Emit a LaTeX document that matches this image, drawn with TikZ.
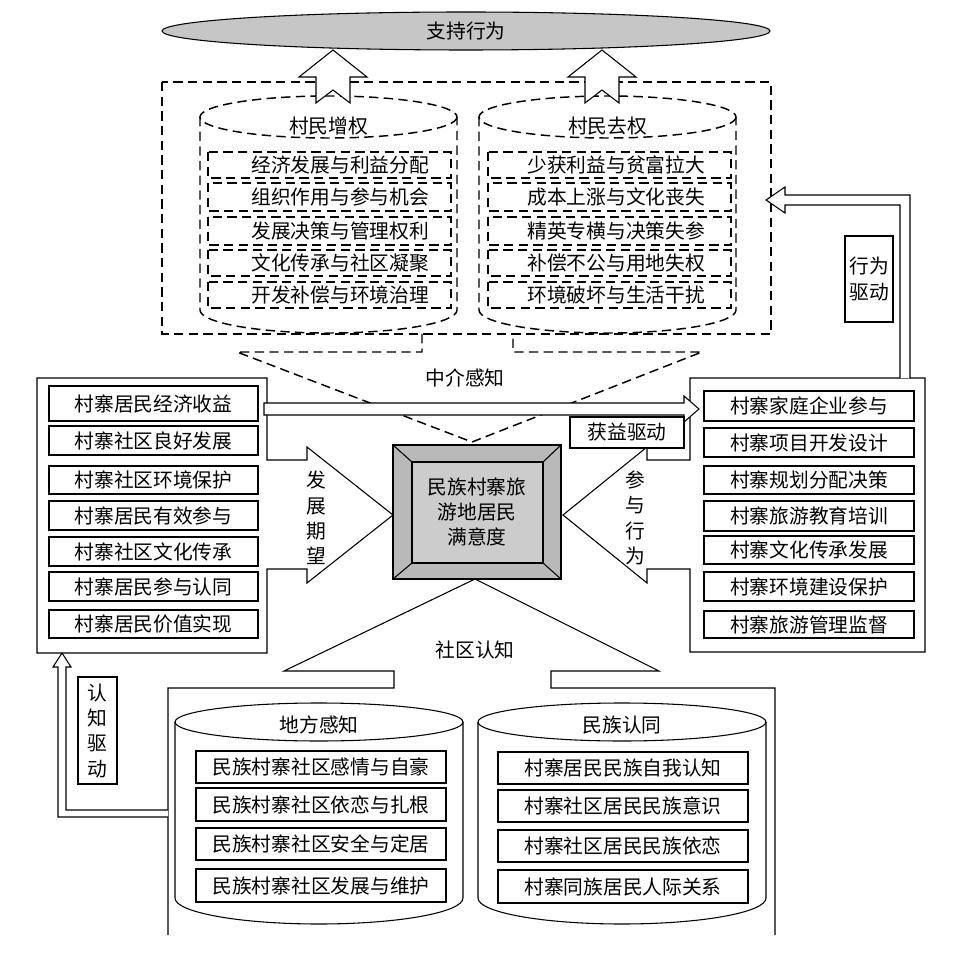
\documentclass[tikz,border=0pt]{standalone}
\usepackage{fontspec}
\setmainfont{Noto Sans CJK SC}
\begin{document}
\begin{tikzpicture}[x=0.75pt,y=-0.75pt,line join=miter,
  ln/.style={draw=black,line width=0.8pt},
  dsh/.style={draw=black,line width=1.1pt,dash pattern=on 7pt off 4pt},
  tx/.style={font=\fontsize{14.8}{17}\selectfont,inner sep=0pt},
  vt/.style={font=\fontsize{14.8}{19}\selectfont,inner sep=0pt,align=center}]
\useasboundingbox[fill=white] (0,0) rectangle (956,955);
% top ellipse
\draw[ln,fill=gray!45] (466,31) ellipse [x radius=304,y radius=19];
\node[tx] (support) at (466,31) {支持行为};
% dashed frame
\draw[dsh] (162,82) rectangle (771,334);
% top cylinders
\foreach \cx/\t/\n in {328.5/村民增权/cl,607.5/村民去权/cr}{
  \draw[dsh] (\cx-128.5,117) -- (\cx-128.5,310) arc[start angle=180,end angle=0,x radius=128.5,y radius=23] -- (\cx+128.5,117);
  \draw[dsh] (\cx,117) ellipse [x radius=128.5,y radius=21];
  \node[tx] (\n) at (\cx,126) {\t};
}
\foreach \a/\b/\t/\n in {152/178/经济发展与利益分配/l1,183/211/组织作用与参与机会/l2,217/245/发展决策与管理权利/l3,250/276/文化传承与社区凝聚/l4,282/308/开发补偿与环境治理/l5}{
  \path[dsh] (208,\a) rectangle (451,\b) node[midway,tx,xshift=8pt] (\n) {\t};
}
\foreach \a/\b/\t/\n in {152/178/少获利益与贫富拉大/r1,183/211/成本上涨与文化丧失/r2,217/245/精英专横与决策失参/r3,250/276/补偿不公与用地失权/r4,282/308/环境破坏与生活干扰/r5}{
  \path[dsh] (488,\a) rectangle (731,\b) node[midway,tx,xshift=5pt] (\n) {\t};
}
% up arrows
\foreach \x in {333,602}{
  \draw[ln,fill=white] (\x-17,103)--(\x-17,77)--(\x-34,77)--(\x,50)--(\x+34,77)--(\x+17,77)--(\x+17,103)--(\x,90)--cycle;
}
% dashed funnel
\coordinate (apex) at (472,442);
\draw[dsh] (422,334)--(422,352)--(237,352)--(apex)--(702,352)--(513,352)--(513,334);
\node[tx] (mid) at (465,378) {中介感知};
% left outer box with arrow
\draw[ln] (37,378)--(267,378)--(267,460)--(307,460)--(307,447)--(393,515)--(307,583)--(307,569)--(267,569)--(267,653)--(37,653)--cycle;
\node[vt] (fz) at (316,518) {发\\展\\期\\望};
\foreach \a/\b/\t/\n in {386/421/村寨居民经济收益/a1,426/455/村寨社区良好发展/a2,466/494/村寨社区环境保护/a3,501/530/村寨居民有效参与/a4,537/566/村寨社区文化传承/a5,572/601/村寨居民参与认同/a6,610/638/村寨居民价值实现/a7}{
  \path[ln] (49,\a) rectangle (258,\b) node[midway,tx] (\n) {\t};
}
% right outer box with arrow
\draw[ln] (925,378)--(690,378)--(690,460)--(647,460)--(647,447)--(563,515)--(647,583)--(647,569)--(690,569)--(690,652)--(925,652)--cycle;
\node[vt] (cy) at (635,518) {参\\与\\行\\为};
\foreach \a/\b/\t/\n in {391/421/村寨家庭企业参与/b1,428/457/村寨项目开发设计/b2,466/494/村寨规划分配决策/b3,501/531/村寨旅游教育培训/b4,536/564/村寨文化传承发展/b5,572/601/村寨环境建设保护/b6,611/638/村寨旅游管理监督/b7}{
  \path[ln] (704,\a) rectangle (914,\b) node[midway,tx] (\n) {\t};
}
% gain arrow
\draw[ln,fill=white] (264,403)--(684,403)--(684,396)--(699,409)--(684,422)--(684,415)--(264,415)--cycle;
\path[ln,fill=white] (570,417) rectangle (684,448) node[midway,tx] (gain) {获益驱动};
% behaviour arrow
\draw[ln,fill=white] (900,378)--(900,205)--(785,205)--(785,213)--(766,200)--(785,187)--(785,195)--(910,195)--(910,378);
\path[ln] (845,236) rectangle (893,322) node[midway,vt] (xw) {行为\\驱动};
% central box
\draw[ln,fill=gray!55] (393,445) rectangle (561,579);
\draw[ln,fill=gray!40] (412,462) rectangle (543,563);
\draw[ln] (393,445)--(412,462) (561,445)--(543,462) (393,579)--(412,563) (561,579)--(543,563);
\node[vt] (center) at (477,512) {民族村寨旅\\游地居民\\满意度};
% bottom triangle frame
\draw[ln] (168,935)--(168,688)--(394,688)--(394,671)--(284,671)--(475,579)--(659,671)--(551,671)--(551,688)--(775,688)--(775,935);
\node[tx] (comm) at (475,650) {社区认知};
% bottom cylinders
\foreach \cx/\t/\n in {319/地方感知/dl,622/民族认同/dr}{
  \draw[ln] (\cx-144,722) -- (\cx-144,898) arc[start angle=180,end angle=0,x radius=144,y radius=26] -- (\cx+144,722);
  \draw[ln] (\cx,722) ellipse [x radius=144,y radius=19];
  \node[tx] (\n) at (\cx,725) {\t};
}
\foreach \a/\b/\t/\n in {751/783/民族村寨社区感情与自豪/c1,788/821/民族村寨社区依恋与扎根/c2,828/860/民族村寨社区安全与定居/c3,869/902/民族村寨社区发展与维护/c4}{
  \path[ln] (196,\a) rectangle (446,\b) node[midway,tx] (\n) {\t};
}
\foreach \a/\b/\t/\n in {752/784/村寨居民民族自我认知/d1,790/822/村寨社区居民民族意识/d2,830/862/村寨社区居民民族依恋/d3,870/903/村寨同族居民人际关系/d4}{
  \path[ln] (498,\a) rectangle (748,\b) node[midway,tx] (\n) {\t};
}
% cognition arrow
\draw[ln,fill=white] (168,817)--(58,817)--(58,667)--(53,667)--(62,653)--(71,667)--(66,667)--(66,810)--(168,810);
\path[ln] (78,677) rectangle (117,784) node[midway,vt] (rz) {认\\知\\驱\\动};
\end{tikzpicture}
\end{document}
